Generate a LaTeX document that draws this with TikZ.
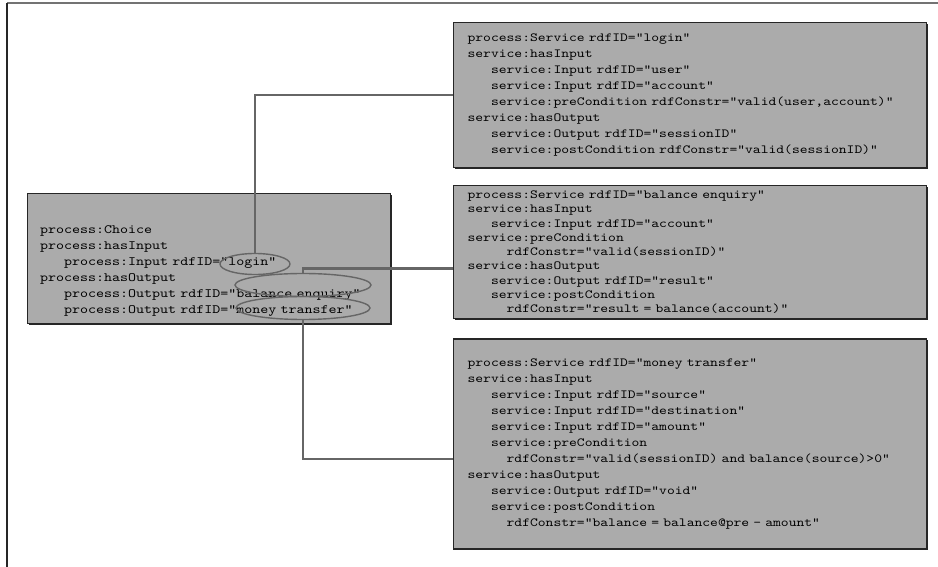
\documentclass[tikz,border=0pt]{standalone}
\usepackage{fontspec}
\setmonofont{lmmono10-regular.otf}[FakeStretch=1.2]
\usetikzlibrary{positioning,shapes.geometric,shadows}
\newcommand{\pad}[1]{\hspace*{#1\fontcharwd\font`\x}}

\begin{document}
\begin{tikzpicture}[x=1pt,y=-1pt,
		box/.style={draw=black!85, line width=1.2pt, fill=black!33, align=left,
			inner xsep=14pt, inner ysep=0pt, text width=445pt,
			font=\ttfamily\fontsize{12.4}{16}\selectfont,
			drop shadow={shadow xshift=1.2pt, shadow yshift=-1.2pt, fill=black!85, opacity=1}},
		oval/.style={ellipse, draw=black!60, line width=1.4pt, inner sep=0pt},
		link/.style={draw=black!60, line width=2.8pt}]
			\useasboundingbox (0,0) rectangle (938,567);
			\draw[black!55, line width=1.5pt] (7,3) -- (938,3);
			\draw[black!85, line width=1.5pt] (7,3) -- (7,567);
			\node[box, anchor=north west, minimum height=145pt] (login) at (453,22) {process:Service rdfID="login"\\
service:hasInput\\
\pad{3}service:Input rdfID="user"\\
\pad{3}service:Input rdfID="account"\\
\pad{3}service:preCondition rdfConstr="valid(user,account)"\\
service:hasOutput\\
\pad{3}service:Output rdfID="sessionID"\\
\pad{3}service:postCondition rdfConstr="valid(sessionID)"};
			\node[box, below = 17pt of login, minimum height=133pt,
				font=\ttfamily\fontsize{12.4}{14.3}\selectfont] (enquiry) {process:Service rdfID="balance enquiry"\\
service:hasInput\\
\pad{3}service:Input rdfID="account"\\
service:preCondition\\
\pad{5}rdfConstr="valid(sessionID)"\\
service:hasOutput\\
\pad{3}service:Output rdfID="result"\\
\pad{3}service:postCondition\\
\pad{5}rdfConstr="result = balance(account)"};
			\node[box, below = 19pt of enquiry, minimum height=210pt] (transfer) {process:Service rdfID="money transfer"\\
service:hasInput\\
\pad{3}service:Input rdfID="source"\\
\pad{3}service:Input rdfID="destination"\\
\pad{3}service:Input rdfID="amount"\\
\pad{3}service:preCondition\\
\pad{5}rdfConstr="valid(sessionID) and balance(source)>0"\\
service:hasOutput\\
\pad{3}service:Output rdfID="void"\\
\pad{3}service:postCondition\\
\pad{5}rdfConstr="balance = balance@pre - amount"};
			\node[box, anchor=north west, text width=338pt, inner xsep=12.5pt, minimum height=130pt,
				font=\ttfamily\fontsize{12.7}{16}\selectfont] (choice) at (27,193) {\mbox{}\\[16pt]
process:Choice\\
process:hasInput\\
\pad{3}process:Input rdfID="login"\\
process:hasOutput\\
\pad{3}process:Output rdfID="balance enquiry"\\
\pad{3}process:Output rdfID="money transfer"};
			\node[oval, minimum width=70pt, minimum height=21pt] (loginmark) at (255,264) {};
			\node[oval, minimum width=136pt, minimum height=23pt] (enqmark) at (303,285) {};
			\node[oval, minimum width=134pt, minimum height=23pt] (transfermark) at (303,308) {};
			\draw[link] (loginmark.north) |- (login.west);
			\draw[link] (enqmark.north) |- ([yshift=-16pt]enquiry.west);
			\draw[link] (transfermark.south) |- ([yshift=-15pt]transfer.west);
		\end{tikzpicture}
\end{document}
